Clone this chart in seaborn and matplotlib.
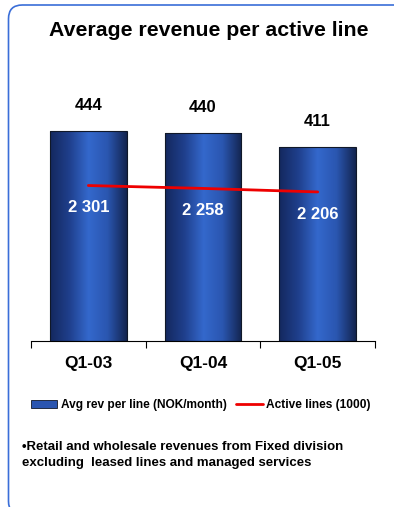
import numpy as np
import pandas as pd
import matplotlib
matplotlib.use("Agg")
import matplotlib.pyplot as plt
import seaborn as sns
from matplotlib.colors import LinearSegmentedColormap
from matplotlib.patches import FancyBboxPatch
from matplotlib.lines import Line2D
from matplotlib.patches import Patch

# Data
quarters = ["Q1-03", "Q1-04", "Q1-05"]
avg_rev = [444, 440, 411]            # NOK/month per line
active_lines = [2301, 2258, 2206]    # thousands
active_labels = ["2 301", "2 258", "2 206"]

sns.set_theme(style="white")
plt.rcParams["font.family"] = ["Liberation Sans", "DejaVu Sans"]
plt.rcParams["text.color"] = "black"
plt.rcParams["xtick.color"] = "black"

W, H = 394, 507
fig = plt.figure(figsize=(W / 100, H / 100), dpi=100)

def px(x0, y0, x1, y1):
    return [x0 / W, 1 - y1 / H, (x1 - x0) / W, (y1 - y0) / H]

ax = fig.add_axes(px(31, 104.5, 375, 341))
df = pd.DataFrame({"quarter": quarters, "rev": avg_rev})
sns.barplot(data=df, x="quarter", y="rev", ax=ax, width=0.67,
            color="#2a55b0", edgecolor="#101828", linewidth=0.8, saturation=1)

# cylinder-like horizontal shading on each bar
shade = LinearSegmentedColormap.from_list(
    "cyl", ["#14285e", "#1f3f8c", "#3468cc", "#2a56b0", "#13244f"])
grad = np.linspace(0, 1, 256).reshape(1, -1)
for p in ax.patches:
    x, y = p.get_x(), p.get_y()
    w, h = p.get_width(), p.get_height()
    im = ax.imshow(grad, cmap=shade, aspect="auto",
                   extent=(x, x + w, y, y + h), zorder=p.get_zorder() + 0.1)
    im.set_clip_path(p)
    p.set_facecolor("none")
    p.set_zorder(p.get_zorder() + 0.2)
ax.set_xlim(-0.5, 2.5)
ax.set_ylim(0, 500)

for i, v in enumerate(avg_rev):
    ax.annotate(str(v), xy=(i, v), xytext=(0, 18), textcoords="offset points",
                ha="center", va="center",
                fontsize=12, fontweight="bold", color="black")

# axes styling
for s in ["top", "right", "left"]:
    ax.spines[s].set_visible(False)
ax.spines["bottom"].set_color("black")
ax.spines["bottom"].set_linewidth(0.8)
ax.set_yticks([])
ax.set_xlabel("")
ax.set_ylabel("")
ax.set_xticks(range(3))
ax.set_xticklabels(quarters, fontsize=12.5, fontweight="bold")
ax.set_xticks([-0.5, 0.5, 1.5, 2.5], minor=True)
ax.tick_params(axis="x", which="major", length=0, pad=11)
ax.tick_params(axis="x", which="minor", length=5, width=0.8,
               color="black", direction="out", bottom=True)
ax.patch.set_alpha(0)

# secondary axis for active lines
ax2 = ax.twinx()
sns.lineplot(x=range(3), y=active_lines, ax=ax2, color="#ee0000",
             linewidth=2, zorder=5)
ax2.set_ylim(0, 3500)
ax2.set_xlim(-0.5, 2.5)
ax2.set_yticks([])
ax2.set_ylabel("")
for s in ax2.spines.values():
    s.set_visible(False)
for i, (v, lab) in enumerate(zip(active_lines, active_labels)):
    ax2.annotate(lab, xy=(i, v), xytext=(0, -16), textcoords="offset points",
                 ha="center", va="center",
                 fontsize=12, fontweight="bold", color="white", zorder=6)

# title
fig.text(209 / W, 1 - 30.5 / H, "Average revenue per active line",
         ha="center", va="center", fontsize=15.3, fontweight="bold")

# legend
handles = [Patch(facecolor="#2a55b0", edgecolor="#101828", linewidth=0.6),
           Line2D([0], [0], color="#ee0000", linewidth=2)]
fig.legend(handles, ["Avg rev per line (NOK/month)", "Active lines (1000)"],
           loc="center", bbox_to_anchor=(201 / W, 1 - 405 / H), ncol=2,
           frameon=False, prop={"weight": "bold", "size": 8.6},
           handlelength=2.2, handleheight=0.7, handletextpad=0.3,
           columnspacing=0.8)

# footnote
fig.text(22 / W, 1 - 447 / H,
         "\u2022Retail and wholesale revenues from Fixed division",
         ha="left", va="center", fontsize=9.5, fontweight="bold")
fig.text(22 / W, 1 - 463 / H,
         "excluding  leased lines and managed services",
         ha="left", va="center", fontsize=9.5, fontweight="bold")

# rounded frame
frame = FancyBboxPatch((8.5 / W, 1 - 515 / H), 400 / W, 510 / H,
                       boxstyle="round,pad=0,rounding_size=0.035",
                       transform=fig.transFigure, fill=False,
                       edgecolor="#3a6ed8", linewidth=1.2,
                       mutation_aspect=W / H)
fig.patches.append(frame)

fig.savefig("out.png", dpi=100)
